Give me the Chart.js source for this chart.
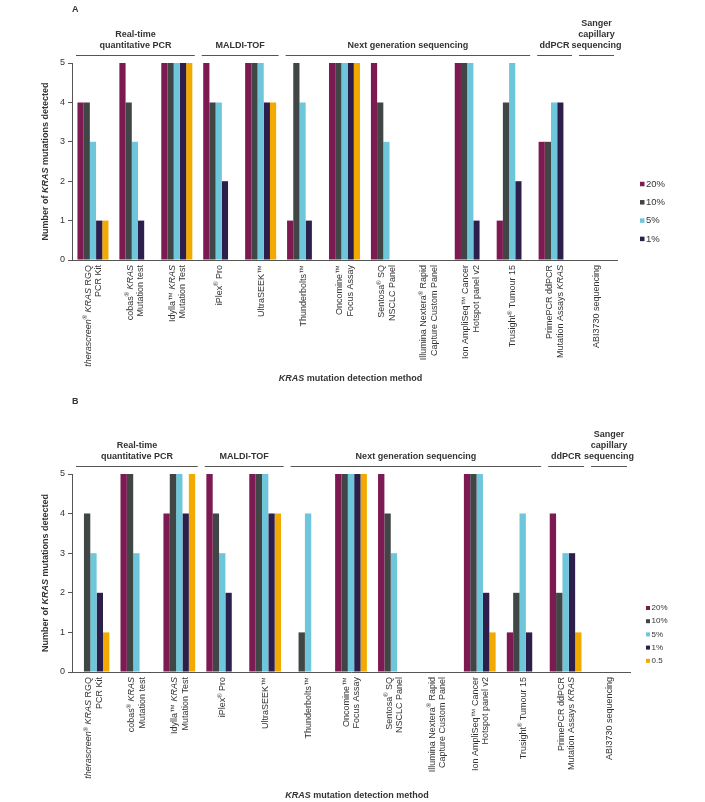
<!DOCTYPE html>
<html><head><meta charset="utf-8">
<script src="https://cdn.jsdelivr.net/npm/chart.js@4.4.0/dist/chart.umd.min.js"></script>
<style>
html,body{margin:0;padding:0;background:#fff;}
#wrap{position:relative;width:705px;height:802px;background:#fff;}
#ca{position:absolute;left:0;top:0;width:705px;height:390px;}
#cb{position:absolute;left:0;top:390px;width:705px;height:412px;}
</style></head><body>
<div id="wrap"><canvas id="ca" width="705" height="390"></canvas><canvas id="cb" width="705" height="412"></canvas></div>
<script>
// ---- DATA ----
// markup: *italic*, ^superscript^, | = line break
const categories = [
  "*therascreen*^®^ *KRAS* RGQ|PCR Kit",
  "cobas^®^ *KRAS*|Mutation test",
  "Idylla™ *KRAS*|Mutation Test",
  "iPlex^®^ Pro",
  "UltraSEEK™",
  "Thunderbolts™",
  "Oncomine™|Focus Assay",
  "Sentosa^®^ SQ|NSCLC Panel",
  "Illumina Nextera^®^ Rapid|Capture Custom Panel",
  "Ion AmpliSeq™ Cancer|Hotspot panel v2",
  "Trusight^®^ Tumour 15",
  "PrimePCR ddPCR|Mutation Assays *KRAS*",
  "ABI3730 sequencing"
];
const seriesLabels = ["20%", "10%", "5%", "1%", "0.5"];
const yTicks = [0, 1, 2, 3, 4, 5];

// Panel A
const a20 = [4, 5, 5, 5, 5, 1, 5, 5, 0, 5, 1, 3, 0];
const a10 = [4, 4, 5, 4, 5, 5, 5, 4, 0, 5, 4, 3, 0];
const a5  = [3, 3, 5, 4, 5, 4, 5, 3, 0, 5, 5, 4, 0];
const a1  = [1, 1, 5, 2, 4, 1, 5, 0, 0, 1, 2, 4, 0];
const a05 = [1, 0, 5, 0, 4, 0, 5, 0, 0, 0, 0, 0, 0];
const legendA = ["20%", "10%", "5%", "1%"];

// Panel B
const b20 = [0, 5, 4, 5, 5, 0, 5, 5, 0, 5, 1, 4, 0];
const b10 = [4, 5, 5, 4, 5, 1, 5, 4, 0, 5, 2, 2, 0];
const b5  = [3, 3, 5, 3, 5, 4, 5, 3, 0, 5, 4, 3, 0];
const b1  = [2, 0, 4, 2, 4, 0, 5, 0, 0, 2, 1, 3, 0];
const b05 = [1, 0, 5, 0, 4, 0, 5, 0, 0, 1, 0, 1, 0];
const legendB = ["20%", "10%", "5%", "1%", "0.5"];

const groupLabels = [
  ["Real-time", "quantitative PCR"],
  ["MALDI-TOF"],
  ["Next generation sequencing"],
  ["ddPCR"],
  ["Sanger", "capillary", "sequencing"]
];
const groupFirst = [0, 3, 5, 11, 12];
const groupLast  = [2, 4, 10, 11, 12];

const yTitle = "Number of *KRAS* mutations detected";
const xTitle = "*KRAS* mutation detection method";

// ---- STYLE ----
const colors = ["#7D1A52", "#404545", "#6EC6DA", "#2E1E4C", "#F2A900"];
const FAM = '"Liberation Sans", Arial, sans-serif';
const TXT = "#333333";
const AX = "#555555";

function plainText(s) { return s.replace(/[\*\^]/g, "").split("|"); }
function parseRich(s) {
  const segs = []; let it = false, sup = false, buf = "";
  const push = () => { if (buf) segs.push({ t: buf, it, sup }); buf = ""; };
  for (const ch of s) {
    if (ch === "*") { push(); it = !it; }
    else if (ch === "^") { push(); sup = !sup; }
    else buf += ch;
  }
  push(); return segs;
}
function fontFor(seg, size, bold) {
  const sz = seg.sup ? size * 0.65 : size;
  return (seg.it ? "italic " : "") + (bold ? "bold " : "") + sz + "px " + FAM;
}
function richWidth(ctx, segs, size, bold) {
  let w = 0;
  for (const s of segs) { ctx.font = fontFor(s, size, bold); w += ctx.measureText(s.t).width; }
  return w;
}
function drawRich(ctx, segs, x, y, size, bold) {
  const base = y + size * 0.35;
  ctx.textAlign = "left"; ctx.textBaseline = "alphabetic";
  for (const s of segs) {
    ctx.font = fontFor(s, size, bold);
    ctx.fillText(s.t, x, s.sup ? base - size * 0.38 : base);
    x += ctx.measureText(s.t).width;
  }
}

function decorPlugin(cfg) {
  return {
    id: "decor",
    afterDraw(chart) {
      const ctx = chart.ctx, ca = chart.chartArea, xs = chart.scales.x;
      ctx.save();
      ctx.fillStyle = TXT;
      // panel letter
      ctx.font = "bold 9px " + FAM; ctx.textAlign = "left"; ctx.textBaseline = "middle";
      ctx.fillText(cfg.letter, ca.left, cfg.letterY);
      // category labels
      const size = 9, lh = 10.5;
      categories.forEach((c, i) => {
        const cx = xs.getPixelForValue(i);
        const lines = c.split("|"), n = lines.length;
        lines.forEach((ln, j) => {
          const segs = parseRich(ln);
          const w = richWidth(ctx, segs, size, false);
          ctx.save();
          ctx.translate(cx + (j - (n - 1) / 2) * lh, ca.bottom + 5);
          ctx.rotate(-Math.PI / 2);
          drawRich(ctx, segs, -w, 0, size, false);
          ctx.restore();
        });
      });
      // group headers
      const half = (xs.getPixelForValue(1) - xs.getPixelForValue(0)) / 2;
      const lineY = ca.top - 8;
      groupLabels.forEach((lines, g) => {
        const x0 = xs.getPixelForValue(groupFirst[g]) - half + 4;
        const x1 = xs.getPixelForValue(groupLast[g]) + half - 3;
        ctx.strokeStyle = AX; ctx.lineWidth = 1;
        ctx.beginPath(); ctx.moveTo(x0, lineY + 0.5); ctx.lineTo(x1, lineY + 0.5); ctx.stroke();
        ctx.font = "bold 9px " + FAM; ctx.textAlign = "center"; ctx.textBaseline = "middle";
        const n = lines.length;
        lines.forEach((t, j) => {
          ctx.fillText(t, (x0 + x1) / 2, lineY - 9 - (n - 1 - j) * 11);
        });
      });
      // y title
      {
        const segs = parseRich(yTitle);
        const w = richWidth(ctx, segs, 9, true);
        ctx.save();
        ctx.translate(ca.left - 27, (ca.top + ca.bottom) / 2);
        ctx.rotate(-Math.PI / 2);
        drawRich(ctx, segs, -w / 2, 0, 9, true);
        ctx.restore();
      }
      // x title
      {
        const segs = parseRich(xTitle);
        const w = richWidth(ctx, segs, 9, true);
        drawRich(ctx, segs, (ca.left + ca.right) / 2 + 6 - w / 2, ca.bottom + cfg.xTitleOff, 9, true);
      }
      // legend
      cfg.legend.forEach((lab, k) => {
        const idx = seriesLabels.indexOf(lab);
        const y = cfg.legY + k * cfg.legStep;
        ctx.fillStyle = colors[idx];
        ctx.fillRect(cfg.legX, y - cfg.sq / 2, cfg.sq, cfg.sq);
        ctx.fillStyle = TXT;
        ctx.font = cfg.legFont + "px " + FAM; ctx.textAlign = "left"; ctx.textBaseline = "middle";
        ctx.fillText(lab, cfg.legX + cfg.sq + 1.5, y);
      });
      ctx.restore();
    }
  };
}

function makeChart(id, series, pad, cfg) {
  const labels = categories.map(plainText);
  return new Chart(document.getElementById(id), {
    type: "bar",
    data: {
      labels,
      datasets: series.map((d, k) => ({
        label: seriesLabels[k], data: d, backgroundColor: colors[k],
        borderWidth: 0, barPercentage: 1, categoryPercentage: 0.74
      }))
    },
    options: {
      responsive: false, animation: false, devicePixelRatio: 1,
      layout: { padding: pad },
      plugins: { legend: { display: false }, tooltip: { enabled: false } },
      scales: {
        x: {
          grid: { display: false }, border: { display: true, color: AX, width: 1 },
          ticks: { display: false },
          afterFit(s) { s.height = 0; }
        },
        y: {
          min: yTicks[0], max: yTicks[yTicks.length - 1],
          afterBuildTicks(s) { s.ticks = yTicks.map(v => ({ value: v })); },
          ticks: { stepSize: 1, color: TXT, font: { size: 9, family: FAM }, padding: 3 },
          grid: { drawOnChartArea: false, drawTicks: true, tickLength: 4, color: AX },
          border: { display: true, color: AX, width: 1 },
          afterFit(s) { s.width = 20; }
        }
      }
    },
    plugins: [decorPlugin(cfg)]
  });
}

makeChart("ca", [a20, a10, a5, a1, a05],
  { left: 52, right: 88, top: 63, bottom: 130 },
  { letter: "A", letterY: 10, legend: legendA, legX: 640, legY: 184, legStep: 18.3, sq: 4.5, legFont: 9.5, xTitleOff: 118 });
makeChart("cb", [b20, b10, b5, b1, b05],
  { left: 52, right: 75, top: 84, bottom: 130 },
  { letter: "B", letterY: 12, legend: legendB, legX: 646, legY: 218, legStep: 13.2, sq: 4, legFont: 8, xTitleOff: 123 });
</script>
</body></html>
